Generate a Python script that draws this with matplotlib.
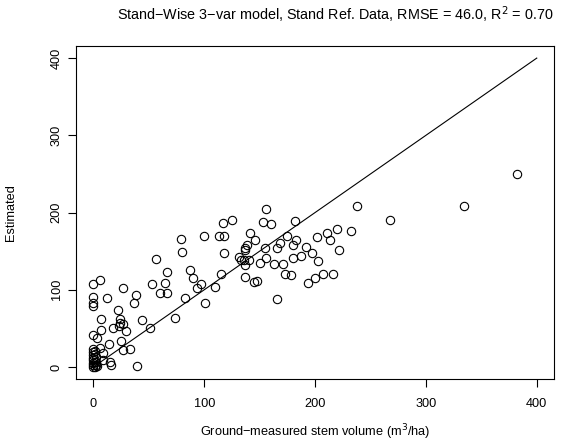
import matplotlib
matplotlib.use("Agg")
import matplotlib.pyplot as plt

plt.rcParams['font.family'] = ['Liberation Sans', 'DejaVu Sans']

# ground measured stem volume (m3/ha) vs estimated
ground = [0, 6, 27, 53, 65, 60, 66, 0, 12, 38, 37, 0, 0, 83, 22, 7, 24, 44, 74,
          18, 23, 27, 24, 29, 51, 7, 0, 3, 25, 14, 27, 33, 6, 9, 9, 15, 16, 39,
          56, 66, 79, 80, 87, 90, 93, 97, 101, 100, 110,
          156, 117, 125, 153, 160, 182, 113, 118, 141, 146, 175, 183, 168, 180,
          139, 137, 137, 155, 166, 192, 202, 118, 197, 187, 180, 131, 133, 136,
          140, 137, 156, 150, 163, 171, 203, 115, 173, 178, 137, 148, 145, 200,
          238, 268, 211, 213, 220, 232, 222, 194, 207, 216, 166, 334, 382,
          0, 1, 0, 2, 0, 1, 0, 0, 2, 0, 1, 0, 1, 3, 0, 2]
estimated = [108, 112, 102, 108, 109, 96, 96, 91, 89, 93, 83, 83, 79, 89, 74,
             62, 62, 61, 63, 51, 53, 55, 57, 47, 50, 48, 41, 37, 33, 30, 22, 23,
             24, 18, 9, 7, 2, 1,
             140, 123, 166, 149, 126, 115, 102, 108, 83, 169, 103,
             204, 187, 190, 188, 185, 189, 169, 170, 173, 164, 170, 164, 161, 158,
             158, 154, 151, 154, 154, 156, 168, 147, 148, 144, 141, 143, 139, 138,
             139, 132, 141, 135, 133, 133, 137, 120, 120, 119, 116, 111, 110, 115,
             209, 190, 173, 165, 179, 176, 151, 109, 121, 121, 88, 208, 250,
             0, 0, 2, 3, 5, 7, 9, 11, 13, 15, 17, 19, 21, 1, 23, 6]

one_to_one = [0, 400]
ticks = [0, 100, 200, 300, 400]

W, H = 565, 448
fig = plt.figure(figsize=(W / 100, H / 100), dpi=100)
ax = fig.add_axes([0.134, 0.1533, 0.8474, 0.7446])

ax.plot(ground, estimated, 'o', mfc='none', mec='black', ms=6, mew=0.8)
ax.plot(one_to_one, one_to_one, color='black', lw=0.8)

ax.set_xlim(-16, 416)
ax.set_ylim(-16, 416)
ax.set_xticks(ticks)
ax.set_yticks(ticks)
ax.tick_params(direction='out', length=5.5, width=0.8, labelsize=9.2)
ax.tick_params(axis='x', pad=8)
ax.tick_params(axis='y', pad=4)
for lab in ax.get_yticklabels():
    lab.set_rotation(90)
    lab.set_va('center')
for sp in ax.spines.values():
    sp.set_linewidth(0.8)

fig.text(315 / W, 1 - 432 / H, 'Ground\u2212measured stem volume (m$^3$/ha)',
         ha='center', va='center', fontsize=9.2)
fig.text(11 / W, 1 - 213 / H, 'Estimated', rotation=90,
         ha='center', va='center', fontsize=9.2)

fig.text(335 / W, 1 - 15 / H,
         'Stand\u2212Wise 3\u2212var model, Stand Ref. Data, RMSE = 46.0, R$^2$ = 0.70',
         ha='center', va='center', fontsize=10.4)

fig.savefig('out.png', dpi=100)
